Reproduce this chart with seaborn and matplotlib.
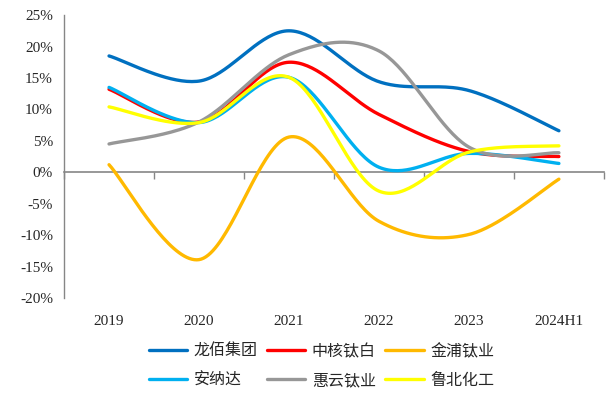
import numpy as np
import pandas as pd
import matplotlib.pyplot as plt
import seaborn as sns

years = ["2019", "2020", "2021", "2022", "2023", "2024H1"]
companies = ["龙佰集团", "中核钛白", "金浦钛业", "安纳达", "惠云钛业", "鲁北化工"]
longbai = [18.5, 14.5, 22.5, 14.4, 13.0, 6.6]
zhonghe = [13.2, 8.0, 17.5, 9.2, 3.3, 2.5]
jinpu = [1.2, -13.9, 5.6, -7.8, -9.9, -1.1]
annada = [13.5, 7.9, 15.1, 0.8, 3.0, 1.4]
huiyun = [4.5, 8.0, 18.7, 19.3, 4.0, 3.1]
lubei = [10.4, 7.9, 15.1, -3.0, 3.2, 4.2]
colors = ["#0070C0", "#FF0000", "#FFB900", "#00B0F0", "#979797", "#FFFF00"]


def smooth(vals, n=40):
    # Excel-style smoothed line: bezier segments through each point
    p = np.array(vals, dtype=float)
    k = len(p)
    xs, ys = [], []
    for i in range(k - 1):
        p0, p1 = p[i], p[i + 1]
        pm = p[max(i - 1, 0)]
        pp = p[min(i + 2, k - 1)]
        xm, xp = max(i - 1, 0), min(i + 2, k - 1)
        c1y = p0 + (p1 - pm) / 6
        c2y = p1 - (pp - p0) / 6
        c1x = i + (i + 1 - xm) / 6
        c2x = i + 1 - (xp - i) / 6
        t = np.linspace(0, 1, n)
        bx = (1 - t) ** 3 * i + 3 * (1 - t) ** 2 * t * c1x + 3 * (1 - t) * t ** 2 * c2x + t ** 3 * (i + 1)
        by = (1 - t) ** 3 * p0 + 3 * (1 - t) ** 2 * t * c1y + 3 * (1 - t) * t ** 2 * c2y + t ** 3 * p1
        xs.extend(bx)
        ys.extend(by)
    return np.array(xs), np.array(ys)


frames = []
for name, vals in zip(companies, [longbai, zhonghe, jinpu, annada, huiyun, lubei]):
    x, y = smooth(vals)
    frames.append(pd.DataFrame({"x": x, "y": y, "公司": name}))
df = pd.concat(frames, ignore_index=True)

sns.set_style("white")
plt.rcParams["font.family"] = ["Liberation Serif", "Noto Sans CJK SC"]

fig = plt.figure(figsize=(6.1, 3.94), dpi=100)
ax = fig.add_axes([0.105, 0.2437, 0.885, 0.718])

sns.lineplot(data=df, x="x", y="y", hue="公司", hue_order=companies,
             palette=colors, linewidth=2.4, sort=False, estimator=None,
             units="公司", ax=ax, legend=False)

ax.set_xlim(-0.5, 5.5)
ax.set_ylim(-20, 25)
ax.set_yticks(np.arange(-20, 26, 5))
ax.set_yticklabels([f"{v}%" for v in range(-20, 26, 5)], fontsize=11)
ax.set_xticks(range(len(years)))
ax.set_xticklabels(years, fontsize=11)
ax.tick_params(axis="x", length=0, pad=12)
ax.tick_params(axis="y", direction="out", length=5, width=1, color="#868686", pad=3)
ax.set_xlabel("")
ax.set_ylabel("")
for s in ["top", "right", "bottom"]:
    ax.spines[s].set_visible(False)
ax.spines["left"].set_color("#868686")
ax.spines["left"].set_linewidth(1)

# zero line with category boundary ticks
sec = ax.secondary_xaxis(20 / 45)
sec.set_xticks(np.arange(-0.5, 5.6, 1))
sec.set_xticklabels([])
sec.tick_params(direction="out", length=5, width=1, color="#868686")
sec.spines["bottom"].set_color("#868686")
sec.spines["bottom"].set_linewidth(1.2)

# legend filled row by row, like the reference
order = [0, 3, 1, 4, 2, 5]
handles = [plt.Line2D([], [], color=colors[i], lw=2.4) for i in order]
labels = [companies[i] for i in order]
fig.legend(handles, labels, loc="center", bbox_to_anchor=(0.527, 0.071),
           ncol=3, frameon=False, handlelength=2.4, handletextpad=0.4,
           columnspacing=0.6, labelspacing=0.75,
           prop={"family": ["Noto Sans CJK SC"], "size": 11.5})

fig.savefig("out.png", dpi=100)
